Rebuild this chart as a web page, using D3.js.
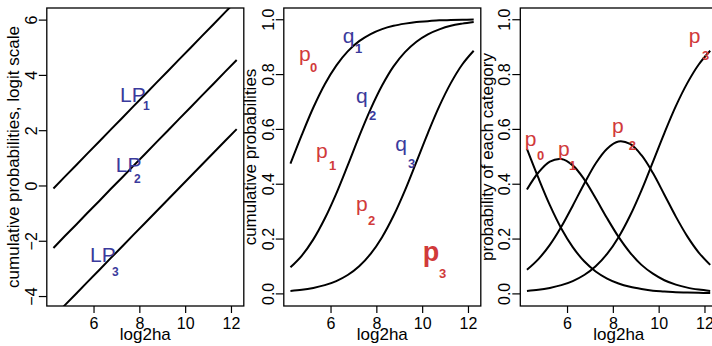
<!DOCTYPE html>
<html><head><meta charset="utf-8">
<script src="https://cdn.jsdelivr.net/npm/d3@7/dist/d3.min.js"></script>
<style>
html,body{margin:0;padding:0;background:#fff;}
svg text{font-family:"Liberation Sans",Arial,Helvetica,sans-serif;}
</style></head>
<body><svg id="chart" width="712" height="346"></svg>
<script>
// ---- data ----
const log2ha = [4.25,4.75,5.25,5.75,6.25,6.75,7.25,7.75,8.25,8.75,9.25,9.75,10.25,10.75,11.25,11.75,12.25];
const LP1 = [-0.11,0.32,0.74,1.17,1.59,2.02,2.44,2.87,3.29,3.72,4.14,4.57,4.99,5.42,5.84,6.27,6.69];
const LP2 = [-2.26,-1.83,-1.41,-0.98,-0.56,-0.13,0.29,0.72,1.14,1.57,1.99,2.42,2.84,3.27,3.69,4.12,4.54];
const LP3 = [-4.76,-4.33,-3.91,-3.48,-3.06,-2.63,-2.21,-1.78,-1.36,-0.93,-0.51,-0.08,0.34,0.77,1.19,1.62,2.04];
const q1 = [0.473,0.579,0.678,0.763,0.831,0.883,0.920,0.946,0.964,0.976,0.984,0.990,0.993,0.996,0.997,0.998,0.999];
const q2 = [0.095,0.138,0.197,0.273,0.364,0.467,0.573,0.672,0.758,0.828,0.880,0.918,0.945,0.963,0.976,0.984,0.990];
const q3 = [0.009,0.013,0.020,0.030,0.045,0.067,0.099,0.144,0.205,0.283,0.376,0.480,0.585,0.683,0.767,0.835,0.885];
const p0 = [0.527,0.421,0.322,0.237,0.169,0.117,0.080,0.054,0.036,0.024,0.016,0.010,0.007,0.004,0.003,0.002,0.001];
const p1 = [0.379,0.441,0.481,0.490,0.467,0.416,0.347,0.274,0.206,0.149,0.104,0.072,0.048,0.032,0.021,0.014,0.009];
const p2 = [0.086,0.125,0.177,0.243,0.320,0.400,0.474,0.528,0.554,0.545,0.504,0.439,0.360,0.280,0.208,0.149,0.104];
const p3 = [0.009,0.013,0.020,0.030,0.045,0.067,0.099,0.144,0.205,0.283,0.376,0.480,0.585,0.683,0.767,0.835,0.885];

const xTicks = [6,8,10,12];
const yTicksLogit = [-4,-2,0,2,4,6];
const yTicksProb = [0,0.2,0.4,0.6,0.8,1.0];
const xTitle = "log2ha";
const yTitles = ["cumulative probabilities, logit scale","cumulative probabilities","probability of each category"];

// annotations: [main, sub, x, y, subX, subY] in data units
const notes1 = [["LP","1",7.16,3.03,8.16,2.73],["LP","2",6.97,0.50,7.77,0.10],["LP","3",5.85,-2.76,6.81,-3.28]];
const notes2 = [["p","0",4.62,0.848,5.10,0.808,"r"],["q","1",6.53,0.915,7.07,0.877,"b"],["q","2",7.11,0.696,7.68,0.632,"b"],
                ["q","3",8.82,0.519,9.38,0.457,"b"],["p","1",5.37,0.495,5.93,0.450,"r"],["p","2",7.11,0.300,7.64,0.249,"r"],
                ["p","3",10.03,0.119,10.74,0.056,"R"]];
const notes3 = [["p","0",4.15,0.538,4.69,0.486],["p","1",5.61,0.501,6.09,0.450],["p","2",7.96,0.586,8.69,0.523],["p","3",11.31,0.915,11.89,0.851]];

// ---- layout ----
const RED = "#d13a3a", BLUE = "#3a3a9c";
const offs = [0,237,473.5];
const boxL = 46.8, boxR = 243.8, boxT = 8, boxB = 306;
const svg = d3.select("#chart");
const X = d3.scaleLinear().domain([3.96,12.56]).range([boxL,boxR]);
const Ylogit = d3.scaleLinear().domain([-4.36,6.42]).range([boxB,boxT]);
const Yprob = d3.scaleLinear().domain([-0.046,1.041]).range([boxB,boxT]);

function panel(i, Y, yTicks, fmt, series, curve){
  const g = svg.append("g").attr("transform",`translate(${offs[i]},0)`);
  const cid = "clip"+i;
  g.append("clipPath").attr("id",cid).append("rect")
    .attr("x",boxL).attr("y",boxT).attr("width",boxR-boxL).attr("height",boxB-boxT);
  const line = d3.line().x(d=>X(d[0])).y(d=>Y(d[1])).curve(curve);
  series.forEach(s=>{
    g.append("path").attr("clip-path",`url(#${cid})`)
      .attr("d", line(log2ha.map((v,k)=>[v,s[k]])))
      .attr("fill","none").attr("stroke","#000").attr("stroke-width",2);
  });
  g.append("rect").attr("x",boxL).attr("y",boxT).attr("width",boxR-boxL).attr("height",boxB-boxT)
    .attr("fill","none").attr("stroke","#000").attr("stroke-width",1.3);
  // x axis
  const xa = g.append("g").attr("transform",`translate(0,${boxB})`)
    .call(d3.axisBottom(X).tickValues(xTicks).tickSize(7).tickFormat(d3.format("d")));
  xa.select(".domain").remove();
  xa.selectAll("line").attr("stroke","#000").attr("stroke-width",1.2);
  xa.selectAll("text").attr("y",23).attr("dy",null).attr("font-size",16).attr("fill","#000");
  // y axis
  const ya = g.append("g").attr("transform",`translate(${boxL},0)`)
    .call(d3.axisLeft(Y).tickValues(yTicks).tickSize(8).tickFormat(fmt));
  ya.select(".domain").remove();
  ya.selectAll("line").attr("stroke","#000").attr("stroke-width",1.2);
  ya.selectAll("text").attr("transform","rotate(-90)").attr("x",0).attr("y",-10).attr("dy",null)
    .attr("text-anchor","middle").attr("font-size",16).attr("fill","#000");
  // titles
  g.append("text").attr("x",(boxL+boxR)/2).attr("y",340).attr("text-anchor","middle")
    .attr("font-size",17).text(xTitle);
  g.append("text").attr("transform",`translate(19,${(boxT+boxB)/2}) rotate(-90)`)
    .attr("text-anchor","middle").attr("font-size",17).text(yTitles[i]);
  return g;
}

function annotate(g, Y, notes, defColor){
  notes.forEach(n=>{
    const kind = n[6] || defColor;
    const big = kind==="R";
    const col = (kind==="b") ? BLUE : RED;
    const c = defColor==="B" ? BLUE : col;
    g.append("text").attr("x",X(n[2])).attr("y",Y(n[3])).attr("fill",c)
      .attr("font-size", big?27:21).attr("font-weight", big?"bold":null).text(n[0]);
    g.append("text").attr("x",X(n[4])).attr("y",Y(n[5])).attr("fill",c)
      .attr("font-size", defColor==="B"?12:13).attr("font-weight","bold").text(n[1]);
  });
}

const g1 = panel(0, Ylogit, yTicksLogit, d3.format("d"), [LP1,LP2,LP3], d3.curveLinear);
annotate(g1, Ylogit, notes1, "B");
const g2 = panel(1, Yprob, yTicksProb, d3.format(".1f"), [q1,q2,q3], d3.curveCatmullRom);
annotate(g2, Yprob, notes2, "r");
const g3 = panel(2, Yprob, yTicksProb, d3.format(".1f"), [p0,p1,p2,p3], d3.curveCatmullRom);
annotate(g3, Yprob, notes3, "r");
</script></body></html>
